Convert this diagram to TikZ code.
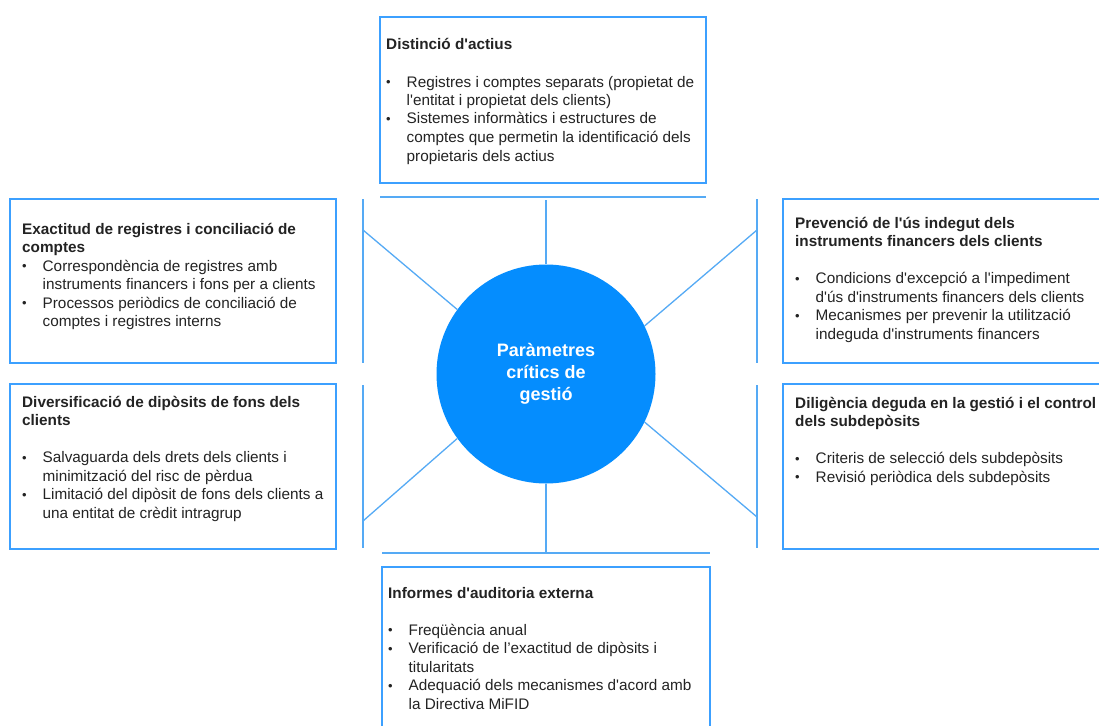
\documentclass[tikz,border=0pt]{standalone}
\usepackage{fontspec}
\setmainfont{Liberation Sans}
\definecolor{boxblue}{RGB}{60,160,255}
\definecolor{lineblue}{RGB}{85,170,245}
\definecolor{circblue}{RGB}{5,141,254}
\definecolor{txtcol}{RGB}{35,35,35}
\newcommand{\ap}{\textquotesingle}
\newcommand{\bl}{{\fontsize{13}{13}\selectfont\raisebox{0.5pt}{•}}}
\newenvironment{boxtext}{\fontsize{15.3}{18.5}\selectfont\begin{tabular}[t]{@{}p{20.5pt}@{}l@{}}}{\end{tabular}}
\newcommand{\ttl}[1]{\multicolumn{2}{@{}l@{}}{\bfseries #1}}
\tikzset{
  boxnode/.style={draw=boxblue, line width=1.4pt, inner sep=0pt},
  conn/.style={draw=lineblue, line width=1.3pt},
  bar/.style={draw=lineblue, line width=2pt},
  txt/.style={anchor=base west, inner sep=0pt, text=txtcol},
}
\begin{document}
\begin{tikzpicture}[x=1pt,y=-1pt]
\clip (0,0) rectangle (1099,725);
\fill[white] (0,0) rectangle (1099,725);

% boxes
\node[boxnode, minimum width=326pt, minimum height=166pt] (btop) at (543,100) {};
\node[boxnode, minimum width=326pt, minimum height=164pt] (bul) at (173,281) {};
\node[boxnode, minimum width=326pt, minimum height=165pt] (bll) at (173,466.5) {};
\node[boxnode, minimum width=327pt, minimum height=164pt] (bur) at (946.5,281) {};
\node[boxnode, minimum width=327pt, minimum height=165pt] (blr) at (946.5,466.5) {};
\node[boxnode, minimum width=328pt, minimum height=168pt] (bbot) at (546,651) {};

% circle
\node[circle, fill=circblue, minimum size=219pt, inner sep=0pt, text=white,
      font=\fontsize{18}{22}\selectfont\bfseries, align=center] (c) at (546,374)
      {Paràmetres\\crítics de\\gestió};

% bar coordinates
\coordinate (tbl) at (380,197); \coordinate (tbr) at (706,197);
\coordinate (tbm) at (546,200);
\coordinate (bbl) at (382,553); \coordinate (bbr) at (710,553);
\coordinate (bbm) at (546,553);
\coordinate (lu1) at (363,199); \coordinate (lu2) at (363,363);
\coordinate (ll1) at (363,385); \coordinate (ll2) at (363,548);
\coordinate (ru1) at (757,199); \coordinate (ru2) at (757,363);
\coordinate (rl1) at (757,385); \coordinate (rl2) at (757,548);
\coordinate (lup) at (363,230); \coordinate (llp) at (363,521);
\coordinate (rup) at (757,230); \coordinate (rlp) at (757,517);

\draw[bar] (tbl) -- (tbr);
\draw[bar] (bbl) -- (bbr);
\draw[conn] (lu1) -- (lu2);
\draw[conn] (ll1) -- (ll2);
\draw[conn] (ru1) -- (ru2);
\draw[conn] (rl1) -- (rl2);
\draw[conn] (c.north) -- (tbm);
\draw[conn] (c.south) -- (bbm);
\draw[conn] (c.144) -- (lup);
\draw[conn] (c.216) -- (llp);
\draw[conn] (c.26) -- (rup);
\draw[conn] (c.334) -- (rlp);

% texts
\node[txt] (ttop) at (386,50) {\begin{boxtext}
\ttl{Distinció d\ap actius}\\[18.5pt]
\bl & Registres i comptes separats (propietat de\\
 & l\ap entitat i propietat dels clients)\\
\bl & Sistemes informàtics i estructures de\\
 & comptes que permetin la identificació dels\\
 & propietaris dels actius
\end{boxtext}};

\node[txt] (tul) at (22,234) {\begin{boxtext}
\ttl{Exactitud de registres i conciliació de}\\
\ttl{comptes}\\
\bl & Correspondència de registres amb\\
 & instruments financers i fons per a clients\\
\bl & Processos periòdics de conciliació de\\
 & comptes i registres interns
\end{boxtext}};

\node[txt] (tur) at (795,228) {\begin{boxtext}
\ttl{Prevenció de l\ap ús indegut dels}\\
\ttl{instruments financers dels clients}\\[18.5pt]
\bl & Condicions d\ap excepció a l\ap impediment\\
 & d\ap ús d\ap instruments financers dels clients\\
\bl & Mecanismes per prevenir la utilització\\
 & indeguda d\ap instruments financers
\end{boxtext}};

\node[txt] (tll) at (22,407) {\begin{boxtext}
\ttl{Diversificació de dipòsits de fons dels}\\
\ttl{clients}\\[18.5pt]
\bl & Salvaguarda dels drets dels clients i\\
 & minimització del risc de pèrdua\\
\bl & Limitació del dipòsit de fons dels clients a\\
 & una entitat de crèdit intragrup
\end{boxtext}};

\node[txt] (tlr) at (795,408) {\begin{boxtext}
\ttl{Diligència deguda en la gestió i el control}\\
\ttl{dels subdepòsits}\\[18.5pt]
\bl & Criteris de selecció dels subdepòsits\\
\bl & Revisió periòdica dels subdepòsits
\end{boxtext}};

\node[txt] (tbot) at (388,598) {\begin{boxtext}
\ttl{Informes d\ap auditoria externa}\\[18.5pt]
\bl & Freqüència anual\\
\bl & Verificació de l’exactitud de dipòsits i\\
 & titularitats\\
\bl & Adequació dels mecanismes d\ap acord amb\\
 & la Directiva MiFID
\end{boxtext}};
\end{tikzpicture}
\end{document}
